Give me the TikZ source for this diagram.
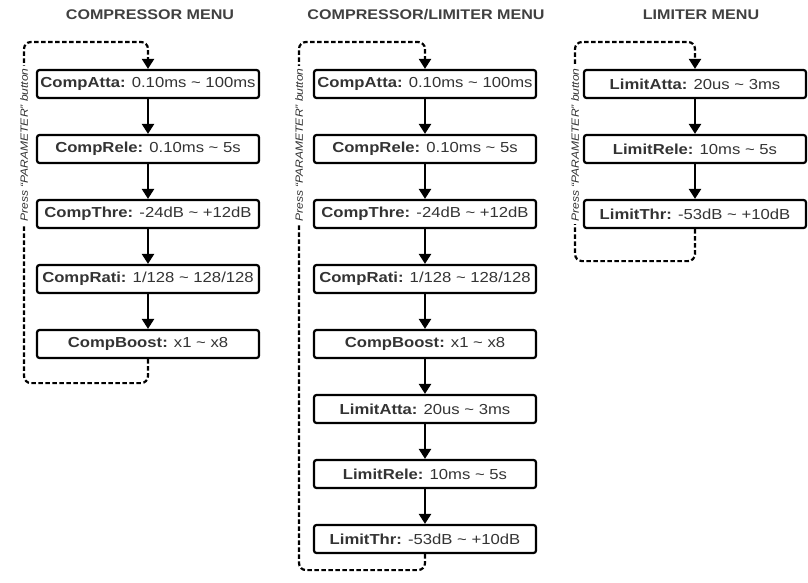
\documentclass[tikz,border=0pt]{standalone}
\usepackage{fontspec}
\setmainfont{Liberation Sans}[FakeStretch=1.15]
\usetikzlibrary{positioning,arrows.meta}

\begin{document}
\begin{tikzpicture}[x=1pt,y=-1pt,
    menubox/.style={draw, line width=2.2pt, rounded corners=2.5pt, minimum width=222pt,
        minimum height=28pt, inner sep=0pt, text=black!80, font=\fontsize{14.5}{17}\selectfont},
    nextarrow/.style={-{Triangle[length=10pt,width=12pt]}, line width=2.4pt},
    loopline/.style={-{Triangle[length=10pt,width=12pt]}, line width=2.2pt,
        dash pattern=on 4.5pt off 2.5pt, rounded corners=7pt},
    menutitle/.style={text=black!75, font=\bfseries\fontsize{14}{17}\selectfont},
    presslabel/.style={rotate=90, fill=white, inner sep=2pt, text=black!80,
        font=\itshape\fontsize{10.5}{12}\selectfont},
    node distance=34.8pt]
    \useasboundingbox (0,0) rectangle (808,583);

    % Titles
    \node [menutitle] (t1) at (150,15) {COMPRESSOR MENU};
    \node [menutitle] (t2) at (426,15) {COMPRESSOR/LIMITER MENU};
    \node [menutitle] (t3) at (701,15) {LIMITER MENU};

    % Compressor menu
    \node [menubox] (comp1) at (148,84) {\textbf{CompAtta:} 0.10ms \textasciitilde{} 100ms};
    \node [menubox, below=of comp1] (comp2) {\textbf{CompRele:} 0.10ms \textasciitilde{} 5s};
    \node [menubox, below=of comp2] (comp3) {\textbf{CompThre:} -24dB \textasciitilde{} +12dB};
    \node [menubox, below=of comp3] (comp4) {\textbf{CompRati:} 1/128 \textasciitilde{} 128/128};
    \node [menubox, below=of comp4] (comp5) {\textbf{CompBoost:} x1 \textasciitilde{} x8};
    \foreach \i [count=\j from 2] in {1,...,4}
        \draw [nextarrow] (comp\i) -- (comp\j);
    \draw [loopline] (comp5.south) -- ++(0,24) -| (24,42) -| (comp1.north);
    \node [presslabel] (p1) at (24,145) {Press ``PARAMETER'' button};

    % Compressor/limiter menu
    \node [menubox] (cl1) at (425,84) {\textbf{CompAtta:} 0.10ms \textasciitilde{} 100ms};
    \node [menubox, below=of cl1] (cl2) {\textbf{CompRele:} 0.10ms \textasciitilde{} 5s};
    \node [menubox, below=of cl2] (cl3) {\textbf{CompThre:} -24dB \textasciitilde{} +12dB};
    \node [menubox, below=of cl3] (cl4) {\textbf{CompRati:} 1/128 \textasciitilde{} 128/128};
    \node [menubox, below=of cl4] (cl5) {\textbf{CompBoost:} x1 \textasciitilde{} x8};
    \node [menubox, below=of cl5] (cl6) {\textbf{LimitAtta:} 20us \textasciitilde{} 3ms};
    \node [menubox, below=of cl6] (cl7) {\textbf{LimitRele:} 10ms \textasciitilde{} 5s};
    \node [menubox, below=of cl7] (cl8) {\textbf{LimitThr:} -53dB \textasciitilde{} +10dB};
    \foreach \i [count=\j from 2] in {1,...,7}
        \draw [nextarrow] (cl\i) -- (cl\j);
    \draw [loopline] (cl8.south) -- ++(0,16) -| (299,42) -| (cl1.north);
    \node [presslabel] (p2) at (299,145) {Press ``PARAMETER'' button};

    % Limiter menu
    \node [menubox] (lim1) at (695,84) {\textbf{LimitAtta:} 20us \textasciitilde{} 3ms};
    \node [menubox, below=of lim1] (lim2) {\textbf{LimitRele:} 10ms \textasciitilde{} 5s};
    \node [menubox, below=of lim2] (lim3) {\textbf{LimitThr:} -53dB \textasciitilde{} +10dB};
    \foreach \i [count=\j from 2] in {1,2}
        \draw [nextarrow] (lim\i) -- (lim\j);
    \draw [loopline] (lim3.south) -- ++(0,32) -| (575,42) -| (lim1.north);
    \node [presslabel] (p3) at (575,145) {Press ``PARAMETER'' button};
\end{tikzpicture}
\end{document}
